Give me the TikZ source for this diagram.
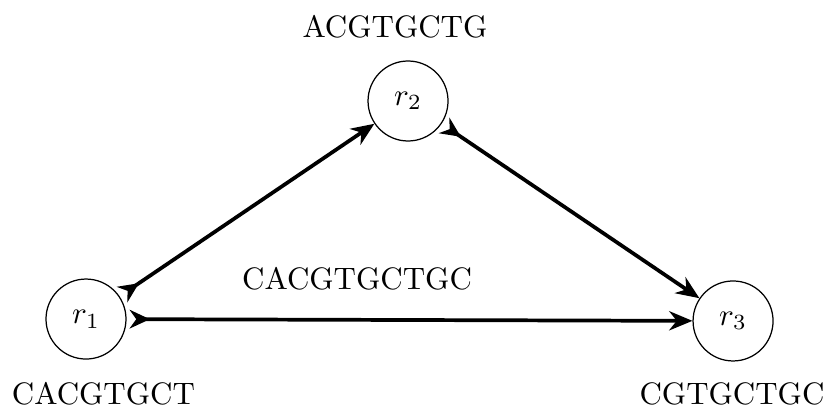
\documentclass[tikz,border=0pt]{standalone}
\usepackage{tikz}
\usetikzlibrary{positioning,arrows.meta}

\begin{document}
\begin{tikzpicture}[>={Stealth[length=7.5pt,width=6.2pt]}]
  \useasboundingbox (0,0) rectangle (9.365,-4.615);
  \tikzset{read/.style={draw,circle,minimum size=9.07mm,inner sep=0pt},
           link/.style={{Stealth[reversed,length=6.5pt,width=6pt]}->,very thick,shorten <=1pt}}
  \node[read] (r1) at (0.975,-3.617) {$r_1$};
  \node[read] (r2) at (4.626,-1.145) {$r_2$};
  \node[read] (r3) at (8.311,-3.639) {$r_3$};
  \node (s1) at (1.173,-4.467) {CACGTGCT};
  \node (s2) at (4.478,-0.300) {ACGTGCTG};
  \node (s3) at (8.299,-4.467) {CGTGCTGC};
  \node (s13) at (4.048,-3.163) {CACGTGCTGC};
  \draw[link] (r1) -- (r2);
  \draw[link] (r2) -- (r3);
  \draw[link] (r1) -- (r3);
\end{tikzpicture}
\end{document}
